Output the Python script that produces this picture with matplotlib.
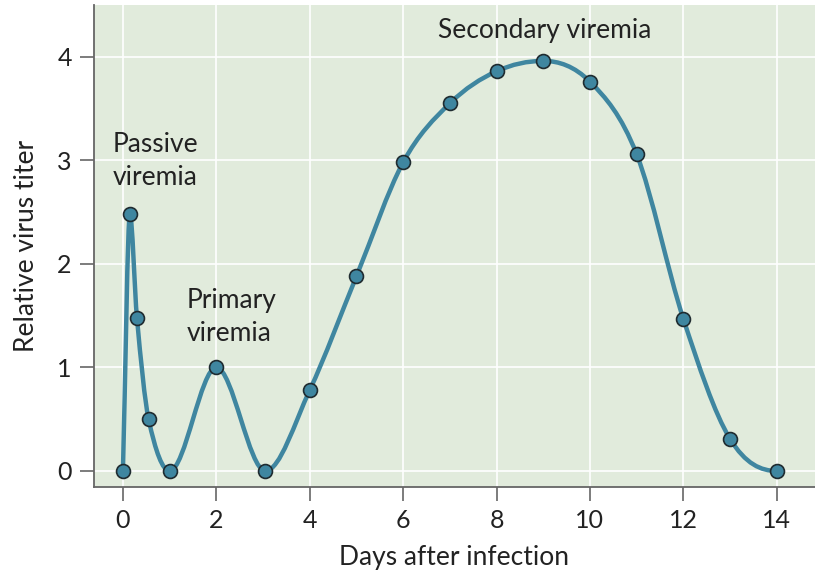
import numpy as np
import matplotlib
matplotlib.use('Agg')
import matplotlib.pyplot as plt
from matplotlib.path import Path
from matplotlib.patches import PathPatch

days = [0, 0.15, 0.3, 0.55, 1, 2, 3.05, 4, 5, 6, 7, 8, 9, 10, 11, 12, 13, 14]
titer = [0, 2.48, 1.48, 0.5, 0, 1.0, 0, 0.78, 1.88, 2.98, 3.55, 3.86, 3.96, 3.76, 3.06, 1.47, 0.31, 0]
xticks = [0, 2, 4, 6, 8, 10, 12, 14]
yticks = [0, 1, 2, 3, 4]

plt.rcParams['font.family'] = ['Lato', 'DejaVu Sans']

line_col = '#3f86a0'
bg = '#e1ebdc'


def slopes(x, y):
    # centred differences, flat at local extrema
    m = np.zeros(len(x))
    for k in range(1, len(x) - 1):
        if (y[k] - y[k-1]) * (y[k+1] - y[k]) > 0:
            m[k] = (y[k+1] - y[k-1]) / (x[k+1] - x[k-1])
    m[0] = (y[1] - y[0]) / (x[1] - x[0])
    m[-1] = 0.0
    return m


x = np.array(days, float)
y = np.array(titer, float)
m = slopes(x, y)
verts = [(x[0], y[0])]
codes = [Path.MOVETO]
for k in range(len(x) - 1):
    h = x[k+1] - x[k]
    verts += [(x[k] + h/3, y[k] + m[k]*h/3),
              (x[k+1] - h/3, y[k+1] - m[k+1]*h/3),
              (x[k+1], y[k+1])]
    codes += [Path.CURVE4] * 3

fig = plt.figure(figsize=(8.15, 5.81), dpi=100)
ax = fig.add_axes([0.1153, 0.1618, 0.8847, 0.8296])
ax.set_facecolor(bg)
ax.set_xlim(-0.62, 14.82)
ax.set_ylim(-0.155, 4.5)

ax.grid(True, color='white', lw=1.2, zorder=0)
ax.set_axisbelow(True)
ax.add_patch(PathPatch(Path(verts, codes), facecolor='none', edgecolor=line_col, lw=3.2, zorder=2))
ax.plot(days, titer, 'o', ms=10, mfc=line_col, mec='#1f2b30', mew=1.2, zorder=3)

for s in ['top', 'right']:
    ax.spines[s].set_visible(False)
for s in ['left', 'bottom']:
    ax.spines[s].set_color('#666666')
    ax.spines[s].set_linewidth(1.3)

ax.set_xticks(xticks)
ax.set_yticks(yticks)
ax.set_xticklabels([str(t) for t in xticks])
ax.tick_params(axis='both', direction='out', length=10, width=1.2, color='#666666',
               labelsize=18, labelcolor='#222222')
ax.tick_params(axis='x', pad=6)
ax.tick_params(axis='y', pad=6)

ax.set_xlabel('Days after infection', fontsize=19, color='#222222', labelpad=9)
ax.set_ylabel('Relative virus titer', fontsize=19, color='#222222', labelpad=13)

ax.text(-0.21, 3.27, 'Passive\nviremia', fontsize=19, color='#222222', va='top', ha='left', linespacing=1.4)
ax.text(1.37, 1.77, 'Primary\nviremia', fontsize=19, color='#222222', va='top', ha='left', linespacing=1.4)
ax.text(9.03, 4.37, 'Secondary viremia', fontsize=19, color='#222222', va='top', ha='center')

fig.savefig('out.png', dpi=100)
